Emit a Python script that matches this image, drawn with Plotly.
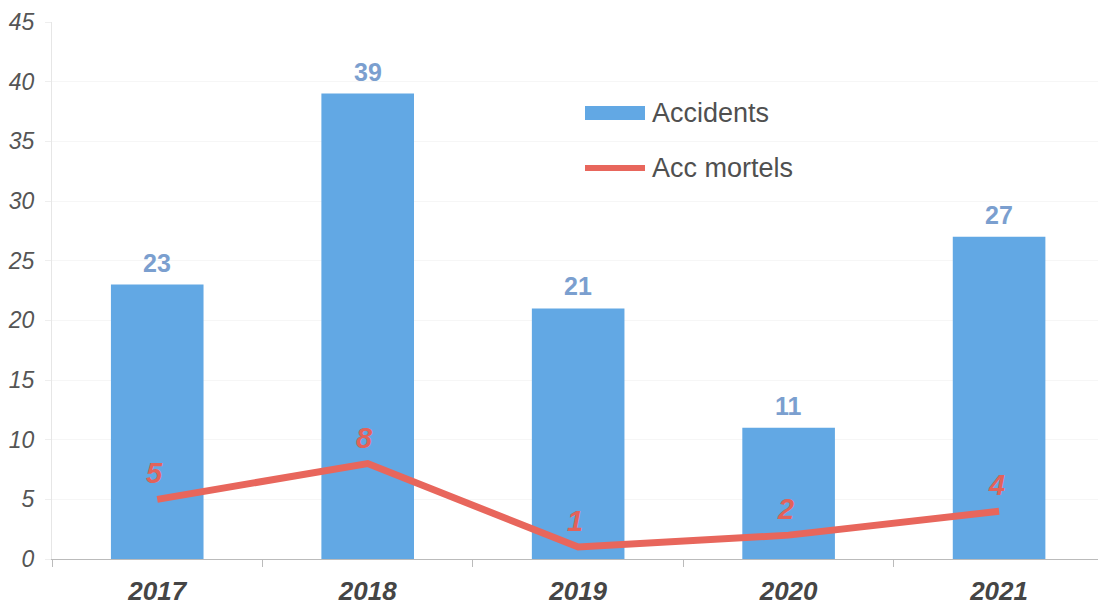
import plotly.graph_objects as go

years = ["2017", "2018", "2019", "2020", "2021"]
accidents = [23, 39, 21, 11, 27]
mortels = [5, 8, 1, 2, 4]
y_ticks = [0, 5, 10, 15, 20, 25, 30, 35, 40, 45]

BLUE = "#62A8E4"
RED = "#E8665C"
FONT = "Liberation Sans, Arial, sans-serif"

fig = go.Figure()
fig.add_trace(go.Bar(x=years, y=accidents, width=0.44, marker_color=BLUE,
                     marker_line_width=0, name="Accidents", showlegend=False))
fig.add_trace(go.Scatter(x=years, y=mortels, mode="lines", line=dict(color=RED, width=7),
                         name="Acc mortels", showlegend=False))

for i, v in enumerate(accidents):
    fig.add_annotation(x=i, y=v, text=str(v), showarrow=False, yshift=22, yanchor="middle",
                       font=dict(family=FONT, size=25, color="#7B9FCF", weight="bold"))
for i, v in enumerate(mortels):
    fig.add_annotation(x=i, y=v, text=f"<i>{v}</i>", showarrow=False, yshift=26, xshift=-3,
                       yanchor="middle",
                       font=dict(family=FONT, size=29, color="#E2625A", weight="bold"))

# legend drawn manually
fig.add_shape(type="rect", xref="paper", yref="paper", x0=(585-52)/1046, x1=(645-52)/1046,
              y0=(559-120)/537, y1=(559-106)/537, fillcolor=BLUE, line_width=0)
fig.add_shape(type="line", xref="paper", yref="paper", x0=(585-52)/1046, x1=(645-52)/1046,
              y0=(559-168)/537, y1=(559-168)/537, line=dict(color=RED, width=6))
fig.add_annotation(xref="paper", yref="paper", x=(650-52)/1046, y=(559-113)/537, text="Accidents",
                   showarrow=False, xanchor="left", yanchor="middle",
                   font=dict(family=FONT, size=27, color="#505050"))
fig.add_annotation(xref="paper", yref="paper", x=(650-52)/1046, y=(559-168)/537, text="Acc mortels",
                   showarrow=False, xanchor="left", yanchor="middle",
                   font=dict(family=FONT, size=27, color="#505050"))

fig.update_layout(
    width=1098, height=605,
    margin=dict(l=52, r=0, t=22, b=46),
    plot_bgcolor="white", paper_bgcolor="white",
    xaxis=dict(type="category", range=[-0.5, 4.47], showgrid=False, showline=True,
               linecolor="#BBBBBB", linewidth=1,
               ticks="outside", tickson="boundaries", ticklen=7, tickcolor="#BBBBBB",
               tickfont=dict(family=FONT, size=26, color="#454545", style="italic", weight="bold"),
               ticklabelstandoff=9),
    yaxis=dict(range=[0, 45], tickvals=y_ticks, showgrid=True, gridcolor="#F6F6F6", zeroline=False,
               showline=True, linecolor="#E6E6E6", linewidth=1,
               ticks="outside", ticklen=6, tickcolor="#EEEEEE",
               tickfont=dict(family=FONT, size=23, color="#555555", style="italic"),
               ticklabelstandoff=6),
)

fig.write_html("out.html")
